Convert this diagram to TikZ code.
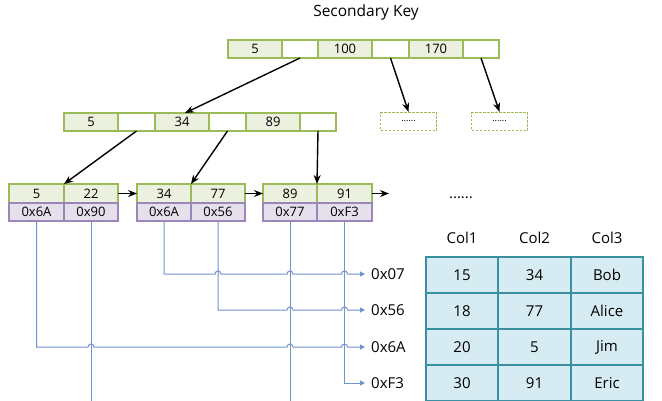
\documentclass[tikz,border=0pt]{standalone}
\usepackage{fontspec}
\setmainfont{Open Sans}
\usetikzlibrary{arrows.meta}
\definecolor{gfill}{HTML}{EBF1DE}
\definecolor{gdraw}{HTML}{9BBB59}
\definecolor{pfill}{HTML}{E5E0EC}
\definecolor{pdraw}{HTML}{9A86B8}
\definecolor{tfill}{HTML}{D6ECF2}
\definecolor{tdraw}{HTML}{3A8FA0}
\definecolor{bluec}{HTML}{6F93CC}
\begin{document}
\begin{tikzpicture}[x=1pt,y=1pt,
  cellbase/.style={rectangle,inner sep=0pt,outer sep=0pt,line width=1.3pt,font=\fontsize{13}{13}\selectfont},
  gcell/.style={cellbase,draw=gdraw,fill=gfill,minimum height=18pt},
  ecell/.style={cellbase,draw=gdraw,fill=white,minimum height=18pt},
  pcell/.style={cellbase,draw=pdraw,fill=pfill,minimum height=18pt},
  dbox/.style={rectangle,draw=gdraw,dash pattern=on 2.5pt off 1.5pt,line width=1.3pt,minimum width=56pt,minimum height=18pt,inner sep=0pt,font=\fontsize{9}{9}\selectfont},
  tcell/.style={rectangle,draw=tdraw,fill=tfill,line width=1.3pt,inner sep=0pt,minimum height=36pt,font=\fontsize{15}{15}\selectfont},
  lbl/.style={font=\fontsize{15}{15}\selectfont,inner sep=0pt},
  karrow/.style={line width=1.4pt,-{Stealth[length=9pt,width=7pt]}},
  barrow/.style={draw=bluec,line width=1pt,-{Triangle[length=5pt,width=5pt]}},
  bluestroke/.style={draw=bluec,line width=1pt}
]
\useasboundingbox (0,0) rectangle (662,-400);
\node[lbl,font=\fontsize{15.5}{15.5}\selectfont] (title) at (366,-12) {Secondary Key};
% top level
\node[gcell,minimum width=54pt] (t1) at (255,-49) {5};
\node[ecell,minimum width=36pt] (t2) at (300,-49) {};
\node[gcell,minimum width=54pt] (t3) at (345,-49) {100};
\node[ecell,minimum width=37pt] (t4) at (390.5,-49) {};
\node[gcell,minimum width=54pt] (t5) at (436,-49) {170};
\node[ecell,minimum width=36pt] (t6) at (481,-49) {};
% dashed children
\node[dbox] (d1) at (408.5,-121.5) {......};
\node[dbox] (d2) at (499.5,-121.5) {......};
% second level
\node[gcell,minimum width=54pt] (s1) at (91,-122) {5};
\node[ecell,minimum width=37pt] (s2) at (136.5,-122) {};
\node[gcell,minimum width=54pt] (s3) at (182,-122) {34};
\node[ecell,minimum width=37pt] (s4) at (227.5,-122) {};
\node[gcell,minimum width=54pt] (s5) at (273,-122) {89};
\node[ecell,minimum width=36pt] (s6) at (318,-122) {};
% leaves
\node[gcell,minimum width=55pt,minimum height=19pt] (a1) at (36.5,-193.5) {5};
\node[gcell,minimum width=54pt,minimum height=19pt] (a2) at (91,-193.5) {22};
\node[pcell,minimum width=55pt] (p1) at (36.5,-212) {0x6A};
\node[pcell,minimum width=54pt] (p2) at (91,-212) {0x90};
\node[gcell,minimum width=54pt,minimum height=19pt] (b1) at (164,-193.5) {34};
\node[gcell,minimum width=54pt,minimum height=19pt] (b2) at (218,-193.5) {77};
\node[pcell,minimum width=54pt] (q1) at (164,-212) {0x6A};
\node[pcell,minimum width=54pt] (q2) at (218,-212) {0x56};
\node[gcell,minimum width=54pt,minimum height=19pt] (c1) at (290,-193.5) {89};
\node[gcell,minimum width=55pt,minimum height=19pt] (c2) at (344.5,-193.5) {91};
\node[pcell,minimum width=54pt] (r1) at (290,-212) {0x77};
\node[pcell,minimum width=55pt] (r2) at (344.5,-212) {0xF3};
\coordinate (nextleaf) at (389,-193.5);
% black arrows
\draw[karrow] (t2.south) -- ([xshift=3pt]s3.north);
\draw[karrow] (t4.south) -- (d1.north);
\draw[karrow] (t6.south) -- (d2.north);
\draw[karrow] (s2.south) -- (a1.north east);
\draw[karrow] (s4.south) -- (b1.north east);
\draw[karrow] (s6.south) -- (c1.north east);
\draw[karrow] (a2.east) -- (b1.west);
\draw[karrow] (b2.east) -- (c1.west);
\draw[karrow] (c2.east) -- (nextleaf);
% dots and table
\node[lbl] (dots) at (461,-198) {......};
\node[lbl] (h1) at (462,-238) {Col1};
\node[lbl] (h2) at (534.5,-238) {Col2};
\node[lbl] (h3) at (607,-238) {Col3};
\node[tcell,minimum width=72pt] (e11) at (462,-275) {15};
\node[tcell,minimum width=73pt] (e12) at (534.5,-275) {34};
\node[tcell,minimum width=72pt] (e13) at (607,-275) {Bob};
\node[tcell,minimum width=72pt] (e21) at (462,-311) {18};
\node[tcell,minimum width=73pt] (e22) at (534.5,-311) {77};
\node[tcell,minimum width=72pt] (e23) at (607,-311) {Alice};
\node[tcell,minimum width=72pt] (e31) at (462,-347) {20};
\node[tcell,minimum width=73pt] (e32) at (534.5,-347) {5};
\node[tcell,minimum width=72pt] (e33) at (607,-347) {Jim};
\node[tcell,minimum width=72pt] (e41) at (462,-383) {30};
\node[tcell,minimum width=73pt] (e42) at (534.5,-383) {91};
\node[tcell,minimum width=72pt] (e43) at (607,-383) {Eric};
% address labels
\node[lbl,anchor=west] (x1) at (371,-274) {0x07};
\node[lbl,anchor=west] (x2) at (371,-310) {0x56};
\node[lbl,anchor=west] (x3) at (371,-347) {0x6A};
\node[lbl,anchor=west] (x4) at (371,-383) {0xF3};
% blue pointer lines with hops
\draw[barrow] (q1.south) -- (164,-274) -- (215,-274) arc[start angle=180,end angle=0,radius=3pt]
  -- (287,-274) arc[start angle=180,end angle=0,radius=3pt]
  -- (341.5,-274) arc[start angle=180,end angle=0,radius=3pt] -- ([xshift=-6pt]x1.west);
\draw[barrow] (q2.south) -- (218,-310) -- (287,-310) arc[start angle=180,end angle=0,radius=3pt]
  -- (341.5,-310) arc[start angle=180,end angle=0,radius=3pt] -- ([xshift=-6pt]x2.west);
\draw[barrow] (p1.south) -- (36.5,-347) -- (88,-347) arc[start angle=180,end angle=0,radius=3pt]
  -- (287,-347) arc[start angle=180,end angle=0,radius=3pt]
  -- (341.5,-347) arc[start angle=180,end angle=0,radius=3pt] -- ([xshift=-6pt]x3.west);
\draw[barrow] (r2.south) -- (344.5,-383) -- ([xshift=-6pt]x4.west);
\coordinate (bot1) at (91.5,-402);
\coordinate (bot2) at (290.5,-402);
\draw[bluestroke] ([xshift=0.5pt]p2.south) -- (bot1);
\draw[bluestroke] ([xshift=0.5pt]r1.south) -- (bot2);
\end{tikzpicture}
\end{document}
